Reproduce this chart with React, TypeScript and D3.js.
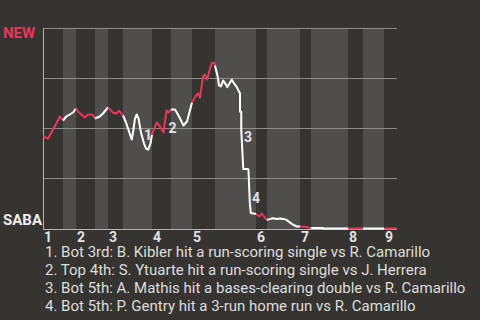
import React from 'react';
import * as d3 from 'd3';

// Half-inning start positions (game progress units), last value = end of game
const halfStarts = [0, 8, 13.2, 20.8, 26, 32, 43.6, 51.2, 59.6, 68.8, 85.2, 89.6, 102.8, 107.2, 122, 128, 136.4, 141.6];
const inningLabels = ['1', '2', '3', '4', '5', '6', '7', '8', '9'];

// Win probability for NEW (%) over game progress
const progress = [
  0, 2, 3.6, 6.8, 8,
  9.3, 10.7, 12, 13.2,
  14, 15.3, 16.7, 18, 19.6, 20.7, 20.8,
  22.7, 24, 25.3, 26,
  27.1, 28, 29.4, 30.4, 32,
  33.2, 34.4, 35.5, 36, 36.8, 37.5, 38.2, 39.2, 40.4, 41.2, 42.1, 43, 43.6,
  45.5, 46.8, 48.2, 49.4, 50.2, 51.2,
  52.8, 54.2, 56.2, 57.6, 59.6,
  61.2, 62, 62.8, 64, 64.8, 65.6, 67.4, 68.4, 68.8,
  69.9, 70.4, 71.1, 72.1, 72.8, 73.7, 75.5, 76.1, 77.5, 78.5, 78.8, 78.8, 79.3, 79.3, 80.1, 82, 82.2, 82.7, 83.1, 85.2,
  86.6, 87.5, 88.4, 89.6,
  90.8, 92.1, 93.5, 94.8, 96.8, 97.5, 99.5, 101.5, 102.8,
  104.8, 106.8, 107.2,
  111.8, 112.2, 122,
  128, 136.4, 141.6,
];
const newWinPct = [
  46, 45, 48.5, 56, 54,
  56, 57, 58, 60,
  58.5, 57, 55.5, 57, 57, 55.5, 55,
  56, 57.5, 59.5, 60.5,
  59.2, 57.9, 57.5, 58.9, 56.5,
  53, 48.5, 44.5, 48, 55, 57, 55, 48, 42.5, 40, 39.5, 42.5, 47,
  53, 51, 48, 59, 58, 59.5,
  59.5, 56.5, 51.5, 53.5, 63,
  66.5, 67.5, 65.5, 76, 77, 74.5, 82.5, 83, 81.5,
  75.7, 71.5, 71, 74, 72.7, 70.7, 74.4, 73.2, 70.7, 68.2, 67.6, 58.4, 58.4, 49.3, 29.8, 29.8, 29.3, 13.3, 7.8, 7.3,
  6, 7.5, 6, 4.2,
  4.8, 5.1, 4.8, 5, 4.6, 4.2, 2.3, 1, 1,
  0.9, 0.3, 0.3,
  0.3, 0, 0,
  0, 0, 0,
];

// Key play markers
const markerText = ['1', '2', '3', '4'];
const markerProgress = [42, 51.8, 82, 85.2];
const markerPct = [44.25, 47.75, 43.25, 12.75];

const notes = [
  '1. Bot 3rd: B. Kibler hit a run-scoring single vs R. Camarillo',
  '2. Top 4th: S. Ytuarte hit a run-scoring single vs J. Herrera',
  '3. Bot 5th: A. Mathis hit a bases-clearing double vs R. Camarillo',
  '4. Bot 5th: P. Gentry hit a 3-run home run vs R. Camarillo',
];

const gridPct = [25, 50, 75, 100];

const W = 480;
const H = 320;
const BG = '#363430';
const BAND = '#4f4e4c';
const RED = '#e8365d';
const FONT = 'Roboto, "Noto Sans", sans-serif';

export default function App() {
  const x = d3.scaleLinear().domain([0, 141.6]).range([43, 397]);
  const y = d3.scaleLinear().domain([0, 100]).range([228.5, 28.5]);
  const pts = progress.map((t, i) => ({ t, p: newWinPct[i] }));
  const line = d3
    .line<{ t: number; p: number }>()
    .x((d) => x(d.t))
    .y((d) => y(d.p));

  const halves = halfStarts.slice(0, -1).map((s, i) => {
    const e = halfStarts[i + 1];
    return { s, e, i, pts: pts.filter((d) => d.t >= s && d.t <= e) };
  });

  return (
    <svg
      width={W}
      height={H}
      style={{ position: 'absolute', left: 0, top: 0, display: 'block' }}
      fontFamily={FONT}
    >
      <rect x={0} y={0} width={W} height={H} fill={BG} />
      {halves.map((h) =>
        h.i % 2 === 1 ? (
          <rect key={'b' + h.i} x={x(h.s)} y={28} width={x(h.e) - x(h.s)} height={201} fill={BAND} />
        ) : null
      )}
      {gridPct.map((g) => (
        <line key={'g' + g} x1={x(0)} x2={x(141.6)} y1={y(g)} y2={y(g)} stroke="#8e8c89" strokeWidth={1} />
      ))}
      <line x1={43.5} x2={43.5} y1={28} y2={230} stroke="#b4b2af" strokeWidth={1} />
      <line x1={43} x2={397} y1={229.5} y2={229.5} stroke="#b4b2af" strokeWidth={1} />
      {halves.map((h) => (
        <path
          key={'l' + h.i}
          d={line(h.pts) || ''}
          fill="none"
          stroke={h.i % 2 === 0 ? RED : '#ffffff'}
          strokeWidth={2}
          strokeLinejoin="round"
        />
      ))}
      {markerText.map((m, i) => (
        <text
          key={'m' + i}
          x={x(markerProgress[i])}
          y={y(markerPct[i])}
          textAnchor="middle"
          fontSize={14}
          fontWeight="bold"
          fill="#e2e2e2"
        >
          {m}
        </text>
      ))}
      {inningLabels.map((lab, i) => (
        <text
          key={'x' + i}
          x={x(halfStarts[i * 2]) + 1}
          y={242}
          fontSize={14}
          fontWeight="bold"
          fill="#e2e2e2"
        >
          {lab}
        </text>
      ))}
      <text x={3} y={38} fontSize={15} fontWeight="bold" fill={RED}>
        NEW
      </text>
      <text x={3} y={225} fontSize={15} fontWeight="bold" fill="#eeeeee">
        SABA
      </text>
      {notes.map((n, i) => (
        <text key={'n' + i} x={45} y={257 + i * 18} fontSize={15} fill="#dddddd">
          {n}
        </text>
      ))}
    </svg>
  );
}
